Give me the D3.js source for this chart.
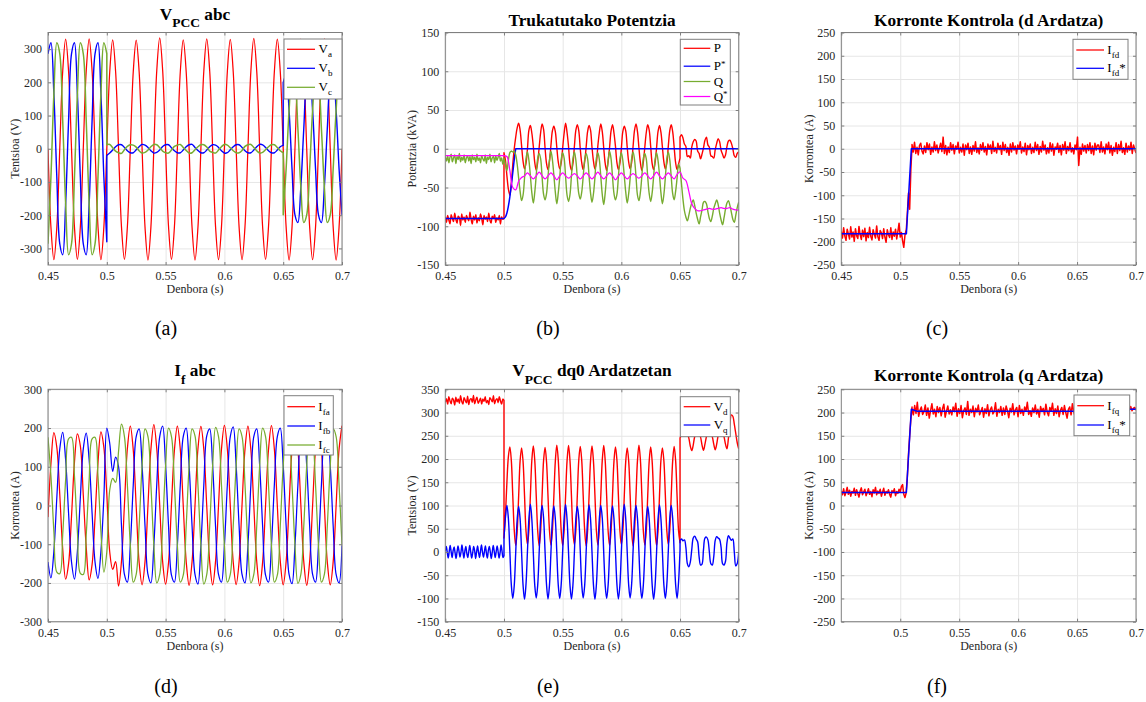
<!DOCTYPE html>
<html><head><meta charset="utf-8">
<script src="https://cdn.jsdelivr.net/npm/d3@7"></script>
<style>
body{margin:0;background:#fff;}
</style></head><body>
<svg id="c" width="1146" height="702" style="font-family:'Liberation Serif','DejaVu Serif','Times New Roman',serif"></svg>
<script>
// ===================== DATA =====================
const xTicks = [0.45, 0.5, 0.55, 0.6, 0.65, 0.7];
const xTickLabels = ["0.45", "0.5", "0.55", "0.6", "0.65", "0.7"];
const xTicksF = [0.5, 0.55, 0.6, 0.65, 0.7];
const xTickLabelsF = ["0.5", "0.55", "0.6", "0.65", "0.7"];
const yTicksA = [-300, -200, -100, 0, 100, 200, 300];
const yTicksB = [-150, -100, -50, 0, 50, 100, 150];
const yTicksC = [-250, -200, -150, -100, -50, 0, 50, 100, 150, 200, 250];
const yTicksD = [-300, -200, -100, 0, 100, 200, 300];
const yTicksE = [-150, -100, -50, 0, 50, 100, 150, 200, 250, 300, 350];
const yTicksF = [-250, -200, -150, -100, -50, 0, 50, 100, 150, 200, 250];

// (a) V_PCC abc  — samples every 2.5 ms
const va = [0,-236,-334,-236,0,233,330,233, 0,-236,-333,-236,0,234,331,234, 2,-234,-334,-236,0,232,328,232,
  0,-236,-333,-235,0,232,327,232, 0,-236,-335,-236,0,236,334,236, 0,-235,-333,-235,0,232,328,232,
  0,-237,-335,-237,0,234,331,234, 0,-236,-334,-236,0,232,329,232, 0,-236,-334,-235,0,233,332,233,
  0,-235,-333,-235,0,233,330,233, 0,-236,-335,-236,0,233,330,233, 0,-236,-334,-236,0,233,331,233, 0,-236,-335,-236,0];
const vbPre = [286,319,165,-85,-286,-319,-165,85, 286,319,165,-85,-286,-319,-165,85, 286,319,165,-85,-280];
const vbSag = [-20,-13,-4,6,12,12,4,-6, -12,-12,-3,6,13,11,4,-6, -13,-11,-4,7,12,12,3,-6, -12,-12,-4,6,12,13,4,-5,
  -12,-12,-4,6,12,11,4,-6, -13,-12,-3,6,12,12,4,-6, -12,-12,-4,6,13,12,4,-6, -12,-12,-4,6,10];
const vbPost = [199,222,115,-60,-199,-222,-115,60, 199,222,115,-60,-199,-222,-115,60, 199,222,115,-60,-199];
const vcPre = [-286,-85,165,319,286,85,-165,-319, -286,-85,165,319,286,85,-165,-319, -286,-85,165,319,286];
const vcSag = [12,13,3,-7,-12,-14,-3,7, 12,11,5,-6,-13,-11,-4,6, 13,12,3,-7,-12,-13,-4,7, 11,13,4,-5,-13,-12,-3,6,
  12,12,5,-7,-11,-13,-4,6, 13,11,3,-6,-12,-12,-5,7, 12,13,4,-6,-13,-11,-3,6, 12,12,4,-6,-12];
const vcPost = [-199,-60,115,222,199,60,-115,-222, -199,-60,115,222,199,60,-115,-222, -199,-60,115,222,199];

// (b) Trukatutako Potentzia
const pPre = [-88,-95,-86,-92,-97,-85,-90,-94,-83,-91,-96,-87,-89,-99,-84,-92,-88,-95,-86,-90,-93,-82,-91,-97,-87,
  -92,-85,-96,-89,-93,-84,-90,-98,-86,-91,-88,-94,-83,-92,-96,-87,-90,-85,-95,-89,-92,-86,-97,-88,-91,-90];
const pMid = [-5,-15,-35,-52,-60,-45,-20,0,15,27,
  33,24,4,-16,-26,-19,0,24, 30,20,3,-18,-28,-17,2,21, 32,25,1,-19,-27,-16,4,23, 29,22,2,-17,-26,-18,1,20,
  33,21,3,-20,-28,-19,3,24, 31,23,0,-18,-27,-17,2,22, 30,24,2,-16,-26,-18,4,21, 32,22,1,-19,-28,-16,2,23,
  31,20,3,-18,-27,-19,0,22, 29,23,2,-17,-26,-18,3,24, 32,22,1,-18,-28,-17,2,21, 31,24,3,-19,-27,-18,1,22,
  30,21,2,-17,-26,-19,3,23, 31,22,2,-18,-27,-20,-12];
const pPost = [15,18, 14,6,3,-10,-9,-12,2,9, 12,10,-3,-6,-13,-7,1,11, 15,5,2,-9,-10,-12,-1,7, 13,9,-2,-7,-12,-8,3,10,
  11,7,0,-9,-11,-6,-4];
const pStarPre = [-90,-90];
const pStarRamp = [-90,-88,-83,-74,-62,-47,-31,-14,0];
const pStarPost = [0,0];
const qPre = [-10,-16,-9,-18,-11,-7,-17,-12,-8,-19,-10,-14,-6,-17,-11,-15,-8,-18,-12,-9,-16,-10,-19,-8,-14,-11,-17,
  -7,-15,-12,-18,-9,-13,-16,-8,-19,-11,-14,-7,-17,-12,-10,-18,-9,-15,-11,-6,-16,-12,-20,-12];
const qMid = [-12,-20,-28,-15,-5,-3,-4,-3,-8,-20,-38,-55,
  -67,-60,-38,-13,-4,-15,-35,-57, -70,-56,-34,-12,-6,-13,-37,-59, -66,-58,-36,-15,-3,-14,-34,-56,
  -71,-57,-37,-14,-5,-12,-36,-60, -68,-59,-35,-13,-4,-15,-38,-58, -65,-56,-36,-14,-6,-13,-35,-57,
  -69,-58,-37,-12,-5,-14,-36,-59, -72,-57,-34,-15,-3,-13,-37,-58, -66,-59,-36,-14,-5,-15,-35,-56,
  -70,-58,-38,-13,-4,-14,-36,-60, -67,-56,-35,-12,-6,-13,-37,-58, -68,-57,-36,-14,-5,-15,-34,-57,
  -71,-59,-37,-13,-4,-14,-36,-58, -66,-55,-38,-20,-25];
const qPost = [-25,-45,-65,-80,-88, -93,-86,-77,-70,-66,-73,-83,-91, -97,-88,-79,-69,-68,-71,-81,-90,
  -94,-87,-77,-71,-66,-72,-83,-92, -98,-89,-78,-70,-67,-73,-82,-91, -95,-86,-76,-69];
const qStar = [-9,-9,-9,-9,-9,-9,-9,-9,-9,-9,-9,-9,-9,-9,-9,-9,-9,-9,-9,-9,-9,
  -10,-28,-50,-53,-42,-37,
  -35,-31,-35,-39,-35,-30,-35,-39,-35,-31,-35,-40,-35,-31,-35,-38,-35,-32,-35,-39,-35,-31,-35,-39,
  -35,-30,-35,-39,-35,-31,-35,-40,-35,-31,-35,-39,-35,-32,-35,-38,-35,-31,-35,-39,-35,-30,-35,-39,
  -35,-31,-35,-39,
  -33,-30,-38,-41,-55,-71,-77,-80,-80,-79,-78,-77,-78,-78,-77,-76,-77,-77,-76,-78,-79,-79];

// (c) Korronte Kontrola (d Ardatza)
const ifdPre = [-178,-192,-170,-188,-197,-173,-183,-194,-168,-190,-179,-199,-172,-187,-193,-167,-185,-195,-175,-189,
  -171,-198,-180,-191,-169,-188,-196,-174,-184,-192,-166,-189,-197,-176,-181,-193,-172,-190,-201,-174,-185,-191,
  -170,-195,-179,-188,-173,-194,-178,-160,-190,-180,-198,-212,-186,-175];
const ifdRamp = [-180,-140,-95,-130,-45,5];
const ifdPost = [9,-7,14,-10,3,-13,7,12,-5,-11,6,-8,13,-2,10,-12,4,-7,15,-4,8,-9,2,12,-6,25,-10,7,-13,4,
  -8,13,-3,9,-11,6,-1,14,-9,3,-7,10,-14,8,-2,12,-10,4,-12,7, -5,15,-8,2,-11,9,-3,13,-7,5,-13,10,-1,8,-10,16,-6,3,-9,12,
  -2,7,-12,14,-4,9,-8,3,-14,10,-7,13,-3,6,-11,8,-1,15,-9,4, -6,12,-13,7,-2,10,-10,3,-8,14,-4,9,-12,5,-7,16,-3,8,-11,2,
  -9,13,-5,10,-14,4,-1,12,-8,7,-13,9,-3,15,-10,5,-4,13,-7,2, -11,8,-2,25,-36,3,-12,10,-5,7,-9,9,-4,13,-10,6,-13,12,-3,8,
  8,-8,15,-7,4,-11,10,-2,14,-9,7,-14,3,-6,13,-10,9,-4,16,-8, 2,-12,12,-7,6,-3,14,-10,8,-1,-9];
const ifdStarT = [0.45, 0.5052, 0.5094, 0.7];
const ifdStarV = [-183, -183, 0, 0];

// (d) I_f abc — samples every 2.5 ms
const ifa = [-30,108,188,150,29,-112,-190,-150, -28,112,185,154,27,-108,-192,-152, -31,110,190,150,29,-120,-165,-145,
  -208,-143,2,147,205,143,-2,-147, -205,-145,0,145,209,146,0,-145, -203,-147,3,143,205,145,0,-144,
  -206,-145,0,146,204,145,-2,-145, -205,-143,0,145,207,146,0,-146, -204,-145,2,145,205,144,0,-145,
  -207,-146,0,144,206,145,0,-143, -205,-145,0,145,204,146,2,-145, -206,-144,0,145,205,145,0,-146, -205,-145,0,145,206];
const ifb = [-146,-187,-118,20,146,189,118,-20, -146,-190,-118,20,146,187,118,-20, -146,-188,-118,20,200,160,88,125,
  100,-53,-178,-198,-103,53,178,198, 103,-53,-178,-200,-103,55,178,205, 103,-53,-180,-198,-103,53,178,200,
  103,-53,-178,-203,-103,53,180,198, 103,-55,-178,-198,-103,53,178,203, 103,-53,-178,-200,-103,53,178,198,
  103,-53,-180,-198,-103,55,178,200, 103,-53,-178,-202,-103,53,178,198, 103,-53,-178,-198,-103,53,180,201, 103,-53,-178,-200,-103];
const ifc = [176,76,-67,-172,-176,-76,67,172, 176,76,-67,-175,-178,-76,67,172, 176,76,-67,-172,-120,40,70,60,
  140,210,178,53,-103,-198,-178,-53, 103,198,178,53,-103,-200,-178,-53, 103,200,178,53,-103,-198,-180,-53,
  103,198,180,53,-103,-203,-178,-53, 103,202,178,53,-103,-198,-178,-53, 103,198,178,55,-103,-200,-178,-53,
  103,200,178,53,-103,-198,-180,-53, 103,198,178,53,-103,-201,-178,-53, 103,203,178,53,-103,-198,-178,-53, 103,198,178,53,-103];

// (e) V_PCC dq0
const vdPre = [322,330,318,334,325,319,331,327,316,333,323,329,320,336,324,318,332,326,321,335,317,328,330,322,337,
  319,327,333,320,325,331,318,329,324,334,321,326,317,332,328,323,336,319,327,330,321,334,325,318,329,326];
const vdMid = [30,80,150,205,
  226,197,121,47,14,45,120,196, 224,195,122,46,16,47,121,198, 228,196,120,45,13,46,122,197, 225,194,121,47,15,45,120,195,
  230,198,122,46,14,47,121,196, 229,196,120,45,16,46,122,198, 227,197,121,47,13,45,120,196, 228,195,122,46,15,47,121,197,
  229,196,120,45,14,46,122,196, 226,197,121,47,16,45,120,195, 224,196,122,46,13,47,121,197, 230,198,120,45,15,46,122,196,
  226,195,121,47,14,45,120,198, 224,196,122,46,16,47,121,196, 227,197,120,46,20];
const vdPost = [245,252,255,256,256,254,245,228,218,230,248,255,257,255,247,230,219,232,248,256,258,256,248,232,220,
  232,250,258,260,257,248,232,222,245,275,295,292,275,255,235,222];
const vqPre = [2,12,-1,-13,1,14,0,-12,3,11,-2,-14,0,13,2,-11,-1,15,1,-13,2,12,-3,-12,1,14,0,-13,-2,12,3,-14,0,13,-1,
  -12,2,15,0,-11,1,13,-2,-13,3,12,0,-14,-1,14,2,-12,0,13,1,-13,-2,15,2,-12,-8];
const vqMid = [30,75,
  100,72,2,-70,-100,-72,-1,70, 98,71,0,-71,-102,-70,1,72, 103,70,-2,-72,-99,-71,0,71, 100,73,1,-70,-101,-72,-2,70,
  99,71,0,-71,-100,-70,1,72, 102,70,-1,-72,-101,-71,0,71, 98,72,2,-70,-99,-72,-1,70, 101,71,0,-71,-102,-70,1,72,
  100,73,-2,-72,-100,-71,0,71, 99,70,1,-70,-101,-72,-1,70, 103,71,0,-71,-99,-70,2,72, 100,72,-1,-72,-100,-71,0,71,
  98,70,1,-70,-102,-72,-2,70, 101,71,0,-71,-100,-70,1,72, 100,72,0,-70,-100,-65,5];
const vqPost = [25,28,24,26,10,-25,-32,-22,5,30,34,28,22,-10,-28,-26,5,30,32,26,0,-25,-28,-10,25,33,30,27,10,-25,
  -28,-20,20,35,30,25,28,0,-30,-25,0];

// (f) Korronte Kontrola (q Ardatza)
const ifqPre = [31,23,36,21,29,39,24,33,20,30,27,37,22,34,26,18,31,38,23,29,35,21,28,36,24,30,19,34,27,39,23,31,26,
  35,20,29,37,22,30,27,34,24,18,32,28,36,21,30,26,35,29,41,45,24,17,27];
const ifqRamp = [28,60,110,150,185,212];
const ifqPost = [209,195,215,198,222,192,205,212,196,202,216,194,210,188,204,219,197,207,191,213,200,211,193,208,218,
  190,203,214,197,206, 195,212,202,220,192,208,198,215,189,204,210,196,224,194,207,200,214,191,209,201,
  216,195,203,211,190,208,198,217,193,206,212,197,202,221,192,207,200,213,194,210,
  196,214,204,189,209,201,219,195,206,211,191,215,198,207,194,212,203,222,196,204,
  192,210,200,216,197,207,190,213,202,209,195,218,201,193,211,203,220,194,208,198,
  214,191,205,211,196,215,200,188,207,212,195,219,202,192,210,204,216,197,208,201,
  213,193,207,219,196,203,211,190,209,200,215,195,206,214,198,210,203,218,201,212,
  206,197,215,202,210,204,213,207,200,211,208,212,203,210,206,213,204,209,211,205];
const ifqStarT = [0.45, 0.5052, 0.5094, 0.514, 0.69, 0.695, 0.7];
const ifqStarV = [28, 28, 207, 203, 203, 207, 207];

// ===================== RENDERING =====================
const FONT = "'Liberation Serif','DejaVu Serif','Times New Roman',serif";
const C = {red:"#ff0000", blue:"#0000ff", green:"#77ac30", mag:"#ff00ff"};
const svg = d3.select("#c");

function seg(t0, t1, vals){ const n = vals.length; return vals.map((v,i)=>[t0+(t1-t0)*i/(n-1), v]); }
function pairs(ts, vs){ return ts.map((t,i)=>[t, vs[i]]); }

const panels = [
 {id:"a", l:48, r:342, t:32.5, b:265, ydom:[-350,350], yt:yTicksA, xt:xTicks, xl:xTickLabels,
  title:[["V",0],["PCC",1],[" abc",0]], titleY:19.5, ylab:"Tentsioa (V)", ylabX:19, cap:"(a)", capX:166, capY:335,
  series:[
   {segs:[seg(0.45,0.7,va)], color:C.red},
   {segs:[seg(0.45,0.5,vbPre), seg(0.5,0.65,vbSag), seg(0.65,0.7,vbPost)], color:C.blue, w:1.4},
   {segs:[seg(0.45,0.5,vcPre), seg(0.5,0.65,vcSag), seg(0.65,0.7,vcPost)], color:C.green, w:1.5}],
  legend:{x:284, y:39, w:58, h:60, lx0:287, lx1:315, tx:318.5, rows:[49.3,68.3,87.3],
   items:[[["V",0],["a",1]],[["V",0],["b",1]],[["V",0],["c",1]]], colors:[C.red,C.blue,C.green]}},
 {id:"b", l:445.3, r:738.7, t:32.5, b:265, ydom:[-150,150], yt:yTicksB, xt:xTicks, xl:xTickLabels,
  title:[["Trukatutako Potentzia",0]], titleY:25.5, ylab:"Potentzia (kVA)", ylabX:415.5, cap:"(b)", capX:548, capY:335,
  series:[
   {segs:[seg(0.45,0.5,pPre), seg(0.5,0.65,pMid), seg(0.65,0.7,pPost)], color:C.red, w:1.4},
   {segs:[seg(0.45,0.5,pStarPre), seg(0.5,0.51,pStarRamp), seg(0.51,0.7,pStarPost)], color:C.blue, w:1.5},
   {segs:[seg(0.45,0.5,qPre), seg(0.5,0.65,qMid), seg(0.65,0.7,qPost)], color:C.green, w:1.4},
   {segs:[seg(0.45,0.7,qStar)], color:C.mag}],
  legend:{x:680.3, y:39.3, w:50, h:65.7, lx0:683.7, lx1:710.3, tx:713.7, rows:[48.3,66.2,81.5,96.5],
   items:[[["P",0]],[["P",0],["*",2]],[["Q",0]],[["Q",0],["*",2]]], colors:[C.red,C.blue,C.green,C.mag]}},
 {id:"c", l:841.3, r:1136, t:32.5, b:265, ydom:[-250,250], yt:yTicksC, xt:xTicks, xl:xTickLabels,
  title:[["Korronte Kontrola (d Ardatza)",0]], titleY:25.5, ylab:"Korrontea (A)", ylabX:812.5, cap:"(c)", capX:937, capY:335,
  series:[
   {segs:[seg(0.45,0.505,ifdPre), seg(0.505,0.51,ifdRamp), seg(0.51,0.7,ifdPost)], color:C.red, w:1.5, curve:"lin"},
   {segs:[pairs(ifdStarT, ifdStarV)], color:C.blue, w:1.5, curve:"lin"}],
  legend:{x:1073, y:39.3, w:55, h:40, lx0:1076.3, lx1:1104, tx:1107.3, rows:[50,68.3],
   items:[[["I",0],["fd",1]],[["I",0],["fd",1],["*",0]]], colors:[C.red,C.blue]}},
 {id:"d", l:48, r:342, t:389.3, b:621.7, ydom:[-300,300], yt:yTicksD, xt:xTicks, xl:xTickLabels,
  title:[["I",0],["f",1],[" abc",0]], titleY:376, ylab:"Korrontea (A)", ylabX:19, cap:"(d)", capX:166, capY:693,
  series:[
   {segs:[seg(0.45,0.7,ifa)], color:C.red},
   {segs:[seg(0.45,0.7,ifb)], color:C.blue},
   {segs:[seg(0.45,0.7,ifc)], color:C.green}],
  legend:{x:284, y:395.7, w:49.3, h:59.3, lx0:287.3, lx1:315, tx:318.3, rows:[406.7,426,445],
   items:[[["I",0],["fa",1]],[["I",0],["fb",1]],[["I",0],["fc",1]]], colors:[C.red,C.blue,C.green]}},
 {id:"e", l:445.3, r:738.7, t:389.3, b:621.7, ydom:[-150,350], yt:yTicksE, xt:xTicks, xl:xTickLabels,
  title:[["V",0],["PCC",1],[" dq0 Ardatzetan",0]], titleY:376, ylab:"Tentsioa (V)", ylabX:415.5, cap:"(e)", capX:548, capY:693,
  series:[
   {segs:[seg(0.45,0.5,vdPre), seg(0.5,0.65,vdMid), seg(0.65,0.7,vdPost)], color:C.red, w:1.4},
   {segs:[seg(0.45,0.5,vqPre), seg(0.5,0.65,vqMid), seg(0.65,0.7,vqPost)], color:C.blue, w:1.4}],
  legend:{x:680.3, y:396.7, w:50, h:40, lx0:683.7, lx1:710.3, tx:713.7, rows:[406.7,425],
   items:[[["V",0],["d",1]],[["V",0],["q",1]]], colors:[C.red,C.blue]}},
 {id:"f", l:841.3, r:1136, t:389.3, b:621.7, ydom:[-250,250], yt:yTicksF, xt:xTicksF, xl:xTickLabelsF,
  title:[["Korronte Kontrola (q Ardatza)",0]], titleY:381, ylab:"Korrontea (A)", ylabX:812.5, cap:"(f)", capX:937, capY:693,
  series:[
   {segs:[seg(0.45,0.505,ifqPre), seg(0.505,0.51,ifqRamp), seg(0.51,0.7,ifqPost)], color:C.red, w:1.5, curve:"lin"},
   {segs:[pairs(ifqStarT, ifqStarV)], color:C.blue, w:1.5, curve:"lin"}],
  legend:{x:1074, y:395, w:55.7, h:40.7, lx0:1077.3, lx1:1104, tx:1107.3, rows:[405.7,425],
   items:[[["I",0],["fq",1]],[["I",0],["fq",1],["*",0]]], colors:[C.red,C.blue]}}
];

function richText(sel, parts, size, subSize, subDy){
  let cur = 0;
  parts.forEach(([s,k])=>{
    const target = k===1 ? subDy : (k===2 ? -subDy*0.9 : 0);
    const ts = sel.append("tspan").text(s).attr("font-size", k ? subSize : size).style("font-family", FONT);
    if (target !== cur) { ts.attr("dy", target - cur); cur = target; }
  });
}

const defs = svg.append("defs");
panels.forEach(p=>{
  const x = d3.scaleLinear().domain([0.45,0.7]).range([p.l,p.r]);
  const y = d3.scaleLinear().domain(p.ydom).range([p.b,p.t]);
  const g = svg.append("g");
  const W = p.r-p.l, H = p.b-p.t;
  defs.append("clipPath").attr("id","clip"+p.id).append("rect").attr("x",p.l).attr("y",p.t).attr("width",W).attr("height",H);

  // grid
  g.append("g").attr("transform",`translate(0,${p.b})`)
   .call(d3.axisBottom(x).tickValues(p.xt).tickSize(-H).tickFormat(""))
   .call(s=>{s.select(".domain").remove(); s.selectAll("line").attr("stroke","#e6e6e6");});
  g.append("g").attr("transform",`translate(${p.l},0)`)
   .call(d3.axisLeft(y).tickValues(p.yt).tickSize(-W).tickFormat(""))
   .call(s=>{s.select(".domain").remove(); s.selectAll("line").attr("stroke","#e6e6e6");});

  // series
  const sg = g.append("g").attr("clip-path",`url(#clip${p.id})`);
  p.series.forEach(s=>{
    const line = d3.line().x(d=>x(d[0])).y(d=>y(d[1]))
      .curve(s.curve==="lin" ? d3.curveLinear : d3.curveCatmullRom.alpha(0.5));
    const d = s.segs.map((pts,i)=>{ const ps = line(pts); return i ? "L"+ps.slice(1) : ps; }).join("");
    sg.append("path").attr("d",d).attr("fill","none").attr("stroke",s.color)
      .attr("stroke-width", s.w || 1.25).attr("stroke-linejoin","round");
  });

  // axes
  const axStyle = s=>{ s.attr("font-family",null); s.select(".domain").remove(); s.selectAll("line").attr("stroke","#7f7f7f");
    s.selectAll("text").attr("fill","#262626").attr("font-size",12).style("font-family",FONT); };
  g.append("g").attr("transform",`translate(0,${p.b})`)
   .call(d3.axisBottom(x).tickValues(p.xt).tickFormat((d,i)=>p.xl[i]).tickSizeInner(-3).tickSizeOuter(0).tickPadding(6.5))
   .call(axStyle);
  g.append("g").attr("transform",`translate(${p.l},0)`)
   .call(d3.axisLeft(y).tickValues(p.yt).tickFormat(d=>String(d)).tickSizeInner(-3).tickSizeOuter(0).tickPadding(6))
   .call(axStyle);
  g.append("g").attr("transform",`translate(0,${p.t})`)
   .call(d3.axisTop(x).tickValues(p.xt).tickFormat("").tickSizeInner(-3).tickSizeOuter(0)).call(axStyle);
  g.append("g").attr("transform",`translate(${p.r},0)`)
   .call(d3.axisRight(y).tickValues(p.yt).tickFormat("").tickSizeInner(-3).tickSizeOuter(0)).call(axStyle);
  g.append("rect").attr("x",p.l).attr("y",p.t).attr("width",W).attr("height",H)
   .attr("fill","none").attr("stroke","#7f7f7f").attr("stroke-width",1);

  // title
  const tt = g.append("text").attr("x",(p.l+p.r)/2).attr("y",p.titleY).attr("text-anchor","middle")
    .attr("font-weight","bold").attr("fill","#000").style("font-family",FONT);
  richText(tt, p.title, 17.3, 13.5, 7.5);

  // axis labels
  g.append("text").attr("x",(p.l+p.r)/2).attr("y",p.b+28).attr("text-anchor","middle")
    .attr("font-size",12).attr("fill","#262626").style("font-family",FONT).text("Denbora (s)");
  g.append("text").attr("transform",`translate(${p.ylabX},${(p.t+p.b)/2}) rotate(-90)`).attr("text-anchor","middle")
    .attr("font-size",12).attr("fill","#262626").style("font-family",FONT).text(p.ylab);

  // legend
  const L = p.legend;
  const lg = g.append("g");
  lg.append("rect").attr("x",L.x).attr("y",L.y).attr("width",L.w).attr("height",L.h)
    .attr("fill","#fff").attr("stroke","#7f7f7f").attr("stroke-width",1);
  L.items.forEach((it,i)=>{
    lg.append("line").attr("x1",L.lx0).attr("x2",L.lx1).attr("y1",L.rows[i]).attr("y2",L.rows[i])
      .attr("stroke",L.colors[i]).attr("stroke-width",1.25);
    const t = lg.append("text").attr("x",L.tx).attr("y",L.rows[i]+4).attr("fill","#000").style("font-family",FONT);
    richText(t, it, 13, 9, 4);
  });

  // caption
  g.append("text").attr("x",p.capX).attr("y",p.capY).attr("text-anchor","middle")
    .attr("font-size",20).attr("fill","#000").style("font-family",FONT).text(p.cap);
});
</script>
</body></html>
